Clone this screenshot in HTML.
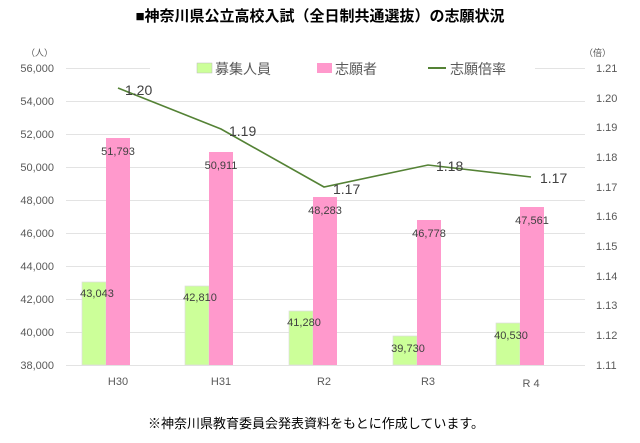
<!DOCTYPE html>
<html><head><meta charset="utf-8"><style>
body{margin:0;background:#fff;}
svg text{font-family:"Liberation Sans","Noto Sans CJK JP",sans-serif;}
</style></head><body>
<svg width="640" height="438" xmlns="http://www.w3.org/2000/svg">
<rect width="640" height="438" fill="#fff"/>
<text x="320" y="21" font-size="15" font-weight="bold" text-anchor="middle" fill="#000">■神奈川県公立高校入試（全日制共通選抜）の志願状況</text>
<g stroke="#e3e3e3" stroke-width="1">
<line x1="66" y1="68.5" x2="585" y2="68.5"/><line x1="66" y1="101.5" x2="585" y2="101.5"/>
<line x1="66" y1="134.5" x2="585" y2="134.5"/><line x1="66" y1="167.5" x2="585" y2="167.5"/>
<line x1="66" y1="200.5" x2="585" y2="200.5"/><line x1="66" y1="233.5" x2="585" y2="233.5"/>
<line x1="66" y1="266.5" x2="585" y2="266.5"/><line x1="66" y1="299.5" x2="585" y2="299.5"/>
<line x1="66" y1="332.5" x2="585" y2="332.5"/><line x1="66" y1="365.5" x2="585" y2="365.5"/>
</g>
<g font-size="11" fill="#595959" text-anchor="end">
<text x="54" y="72">56,000</text><text x="54" y="105">54,000</text><text x="54" y="138">52,000</text>
<text x="54" y="171">50,000</text><text x="54" y="204">48,000</text><text x="54" y="237">46,000</text>
<text x="54" y="270">44,000</text><text x="54" y="303">42,000</text><text x="54" y="336">40,000</text>
<text x="54" y="369">38,000</text>
</g>
<g font-size="11" fill="#595959">
<text x="596" y="72">1.21</text><text x="596" y="102">1.20</text><text x="596" y="131">1.19</text>
<text x="596" y="161">1.18</text><text x="596" y="191">1.17</text><text x="596" y="220">1.16</text>
<text x="596" y="250">1.15</text><text x="596" y="280">1.14</text><text x="596" y="309">1.13</text>
<text x="596" y="339">1.12</text><text x="596" y="369">1.11</text>
</g>
<text x="26" y="56" font-size="9" fill="#595959">（人）</text>
<text x="584" y="56" font-size="9" fill="#595959">（倍）</text>
<rect x="150" y="58" width="385" height="22" fill="#fff"/>
<rect x="197" y="63" width="15" height="10" fill="#ccff99" stroke="#bbb" stroke-width="0.5"/>
<text x="215" y="74" font-size="14" fill="#595959">募集人員</text>
<rect x="317" y="63" width="15" height="10" fill="#ff99cc"/>
<text x="335" y="74" font-size="14" fill="#595959">志願者</text>
<line x1="428" y1="68" x2="446" y2="68" stroke="#548235" stroke-width="2"/>
<text x="450" y="74" font-size="14" fill="#595959">志願倍率</text>
<g stroke="#ddd" stroke-width="0.7">
<rect x="82" y="282" width="24" height="83" fill="#ccff99"/>
<rect x="185" y="286" width="24" height="79" fill="#ccff99"/>
<rect x="289" y="311" width="24" height="54" fill="#ccff99"/>
<rect x="393" y="336" width="24" height="29" fill="#ccff99"/>
<rect x="496" y="323" width="24" height="42" fill="#ccff99"/>
</g>
<g fill="#ff99cc">
<rect x="106" y="138" width="24" height="227"/>
<rect x="209" y="152" width="24" height="213"/>
<rect x="313" y="197" width="24" height="168"/>
<rect x="417" y="220" width="24" height="145"/>
<rect x="520" y="207" width="24" height="158"/>
</g>
<g font-size="11" fill="#404040" text-anchor="middle">
<text x="97" y="297">43,043</text><text x="200" y="301">42,810</text><text x="304" y="326">41,280</text>
<text x="408" y="352">39,730</text><text x="511" y="339">40,530</text>
<text x="118" y="155">51,793</text><text x="221" y="169">50,911</text><text x="325" y="214">48,283</text>
<text x="429" y="237">46,778</text><text x="532" y="224">47,561</text>
</g>
<polyline points="118,88 221,129 324,187 428,165 531,177" fill="none" stroke="#548235" stroke-width="1.6"/>
<g font-size="14" fill="#404040">
<text x="125" y="95">1.20</text><text x="229" y="136">1.19</text><text x="333" y="194">1.17</text>
<text x="436" y="171">1.18</text><text x="540" y="183">1.17</text>
</g>
<g font-size="11" fill="#595959" text-anchor="middle">
<text x="118" y="385">H30</text><text x="221" y="385">H31</text><text x="324" y="385">R2</text>
<text x="428" y="385">R3</text><text x="531" y="387">R 4</text>
</g>
<text x="316" y="428" font-size="13" text-anchor="middle" fill="#000">※神奈川県教育委員会発表資料をもとに作成しています。</text>
</svg>
</body></html>
